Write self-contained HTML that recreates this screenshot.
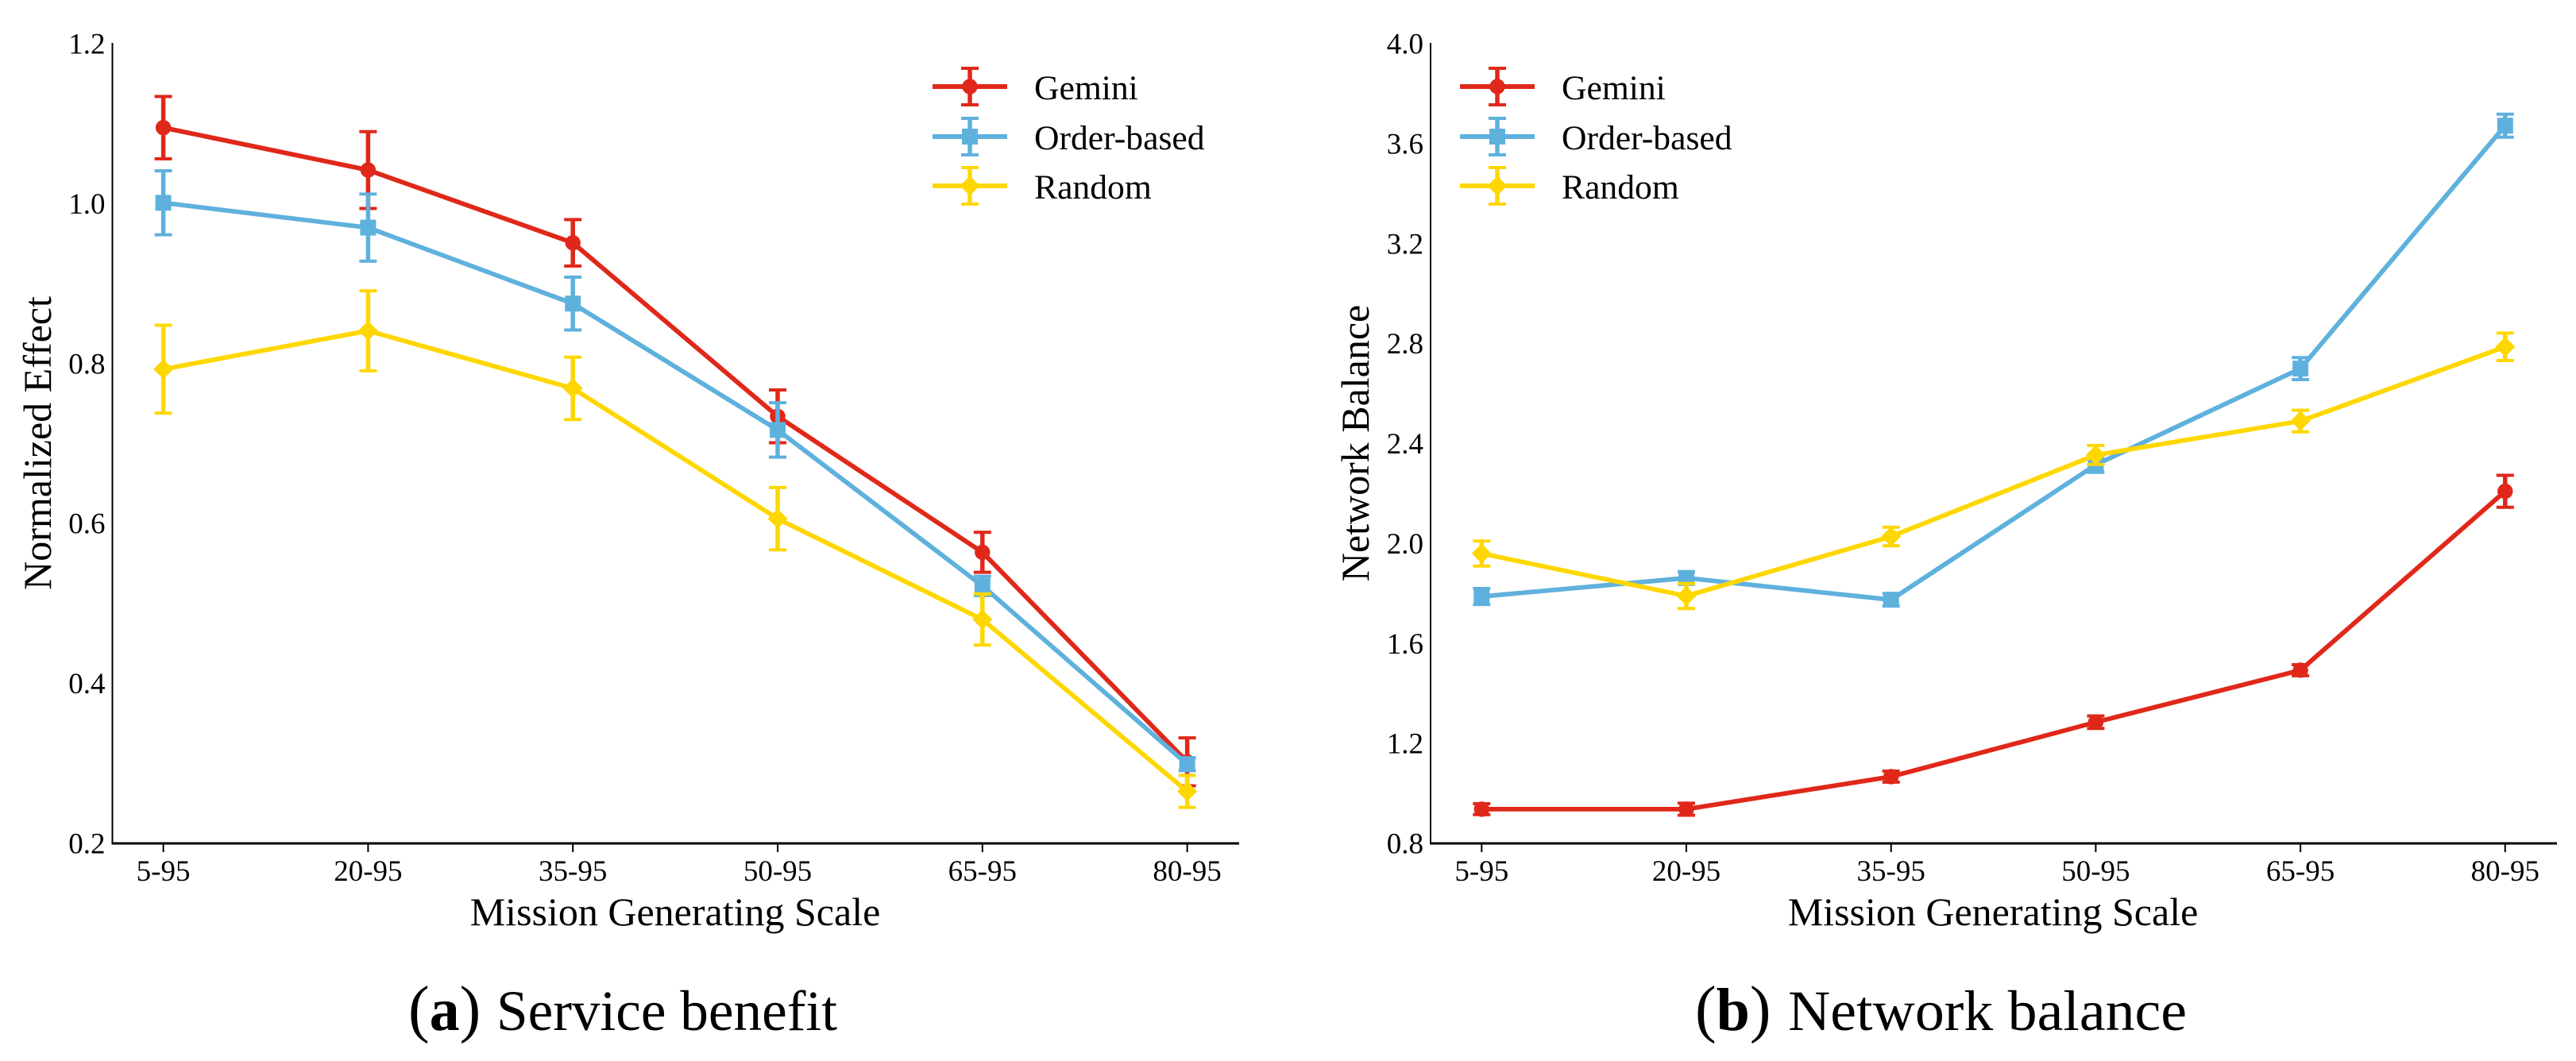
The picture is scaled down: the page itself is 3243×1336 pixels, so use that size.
<!DOCTYPE html>
<html lang="en">
<head>
<meta charset="utf-8">
<title>Service benefit and network balance</title>
<style>
html,body{margin:0;padding:0;background:#fff;}
svg{display:block;font-family:"Liberation Serif",serif;fill:#000;}
</style>
</head>
<body>
<svg id="figure" xmlns="http://www.w3.org/2000/svg" width="3243" height="1336" viewBox="0 0 3243 1336">
<text font-size="72" y="1297"><tspan x="514" font-size="80">(</tspan><tspan font-weight="bold" font-size="76">a</tspan><tspan font-size="80">)</tspan><tspan x="625" textLength="429" lengthAdjust="spacingAndGlyphs">Service benefit</tspan></text>
<text font-size="72" y="1297"><tspan x="2134" font-size="80">(</tspan><tspan font-weight="bold" font-size="76">b</tspan><tspan font-size="80">)</tspan><tspan x="2251" textLength="502" lengthAdjust="spacingAndGlyphs">Network balance</tspan></text>
</svg>
<script>
const categories = ['5-95','20-95','35-95','50-95','65-95','80-95'];
const seriesNames = ['Gemini','Order-based','Random'];

const benefitTicks = [0.2,0.4,0.6,0.8,1.0,1.2];
const benefitGemini = [1.095,1.042,0.951,0.734,0.564,0.302];
const benefitGeminiErr = [0.039,0.048,0.029,0.033,0.025,0.030];
const benefitOrder = [1.001,0.970,0.875,0.717,0.522,0.299];
const benefitOrderErr = [0.040,0.042,0.033,0.034,0.012,0.008];
const benefitRandom = [0.793,0.841,0.769,0.606,0.480,0.265];
const benefitRandomErr = [0.055,0.050,0.039,0.039,0.032,0.020];

const balanceTicks = [0.8,1.2,1.6,2.0,2.4,2.8,3.2,3.6,4.0];
const balanceGemini = [0.937,0.937,1.067,1.285,1.493,2.209];
const balanceGeminiErr = [0.022,0.024,0.022,0.025,0.022,0.064];
const balanceOrder = [1.788,1.862,1.775,2.315,2.700,3.672];
const balanceOrderErr = [0.032,0.025,0.025,0.030,0.044,0.046];
const balanceRandom = [1.960,1.790,2.028,2.354,2.490,2.787];
const balanceRandomErr = [0.050,0.050,0.037,0.038,0.043,0.055];

const NS = 'http://www.w3.org/2000/svg';
const colors = ['#E0281A','#5FB1DD','#FFD700'];
const figure = document.getElementById('figure');

function make(parent, tag, attrs, name, text) {
  const el = document.createElementNS(NS, tag);
  for (const k in attrs) el.setAttribute(k, attrs[k]);
  
  
  if (text !== undefined) el.textContent = text;
  parent.appendChild(el);
  return el;
}

function marker(g, kind, cx, cy, color, name) {
  if (kind === 0) make(g, 'circle', {cx:cx, cy:cy, r:9.7, fill:color}, name);
  if (kind === 1) make(g, 'rect', {x:cx-10, y:cy-10, width:20, height:20, fill:color}, name);
  if (kind === 2) make(g, 'polygon', {points:[cx-12.5,cy, cx,cy-12.5, cx+12.5,cy, cx,cy+12.5].join(','), fill:color}, name);
}

function errorBar(g, x, yHigh, yLow, color, name) {
  make(g, 'line', {x1:x, x2:x, y1:yHigh, y2:yLow, stroke:color, 'stroke-width':5.5}, name + '-stem');
  make(g, 'line', {x1:x-11, x2:x+11, y1:yHigh, y2:yHigh, stroke:color, 'stroke-width':4}, name + '-cap-top');
  make(g, 'line', {x1:x-11, x2:x+11, y1:yLow, y2:yLow, stroke:color, 'stroke-width':4}, name + '-cap-bottom');
}

function drawChart(cfg) {
  const root = make(figure, 'g', {}, cfg.name);
  const top = 54, bottom = 1062;
  const xScale = i => cfg.x0 + i * cfg.dx;
  const yScale = v => cfg.yBottom - (v - cfg.ticks[0]) / (cfg.ticks[cfg.ticks.length-1] - cfg.ticks[0]) * (cfg.yBottom - cfg.yTop);

  make(root, 'line', {x1:cfg.axisX, x2:cfg.axisX, y1:top, y2:bottom+1, stroke:'#000', 'stroke-width':2}, 'y-axis-line');
  make(root, 'line', {x1:cfg.axisX-1, x2:cfg.axisEnd, y1:bottom, y2:bottom, stroke:'#000', 'stroke-width':3}, 'x-axis-line');

  categories.forEach((c, i) => {
    make(root, 'line', {x1:xScale(i), x2:xScale(i), y1:bottom, y2:bottom+11, stroke:'#000', 'stroke-width':2}, 'x-tick-' + c);
    make(root, 'text', {x:xScale(i), y:1109, 'text-anchor':'middle', 'font-size':37}, 'x-tick-label-' + c, c);
  });
  cfg.ticks.forEach(t => {
    make(root, 'text', {x:cfg.axisX-9, y:yScale(t)+12.5, 'text-anchor':'end', 'font-size':37}, 'y-tick-label-' + t.toFixed(1), t.toFixed(1));
  });

  make(root, 'text', {x:cfg.xTitleX, y:1165, 'text-anchor':'middle', 'font-size':50}, 'x-axis-title', 'Mission Generating Scale');
  make(root, 'text', {transform:'translate(' + cfg.yTitleX + ',558) rotate(-90)', 'text-anchor':'middle', 'font-size':50}, 'y-axis-title', cfg.yTitle);

  cfg.series.forEach((s, si) => {
    const color = colors[si];
    const g = make(root, 'g', {}, 'series-' + seriesNames[si].toLowerCase());
    make(g, 'polyline', {points:s.values.map((v,i) => xScale(i) + ',' + yScale(v)).join(' '), fill:'none', stroke:color, 'stroke-width':5.8, 'stroke-linejoin':'round'}, 'line-' + seriesNames[si].toLowerCase());
    s.values.forEach((v, i) => {
      errorBar(g, xScale(i), yScale(v + s.err[i]), yScale(v - s.err[i]), color, 'error-bar-' + categories[i]);
      marker(g, si, xScale(i), yScale(v), color, 'marker-' + categories[i]);
    });
  });

  const legend = make(root, 'g', {}, 'legend');
  const rowY = [109, 172, 234];
  seriesNames.forEach((n, i) => {
    const color = colors[i];
    const entry = make(legend, 'g', {}, 'legend-entry-' + n.toLowerCase());
    const cx = cfg.legendX + 47;
    make(entry, 'line', {x1:cfg.legendX, x2:cfg.legendX+94, y1:rowY[i], y2:rowY[i], stroke:color, 'stroke-width':6}, 'legend-line');
    errorBar(entry, cx, rowY[i]-23, rowY[i]+23, color, 'legend-error-bar');
    marker(entry, i, cx, rowY[i], color, 'legend-marker');
    make(entry, 'text', {x:cfg.legendX+128, y:rowY[i]+16, 'font-size':43.6}, 'legend-label', n);
  });
}

drawChart({
  name:'service-benefit-chart', x0:205.6, dx:257.8, axisX:141.5, axisEnd:1560,
  ticks:benefitTicks, yTop:55, yBottom:1062, xTitleX:850, yTitleX:64, yTitle:'Normalized Effect', legendX:1174,
  series:[{values:benefitGemini, err:benefitGeminiErr},{values:benefitOrder, err:benefitOrderErr},{values:benefitRandom, err:benefitRandomErr}]
});
drawChart({
  name:'network-balance-chart', x0:1865.3, dx:257.7, axisX:1801, axisEnd:3219,
  ticks:balanceTicks, yTop:55, yBottom:1062, xTitleX:2509, yTitleX:1723, yTitle:'Network Balance', legendX:1838,
  series:[{values:balanceGemini, err:balanceGeminiErr},{values:balanceOrder, err:balanceOrderErr},{values:balanceRandom, err:balanceRandomErr}]
});
</script>
</body>
</html>
